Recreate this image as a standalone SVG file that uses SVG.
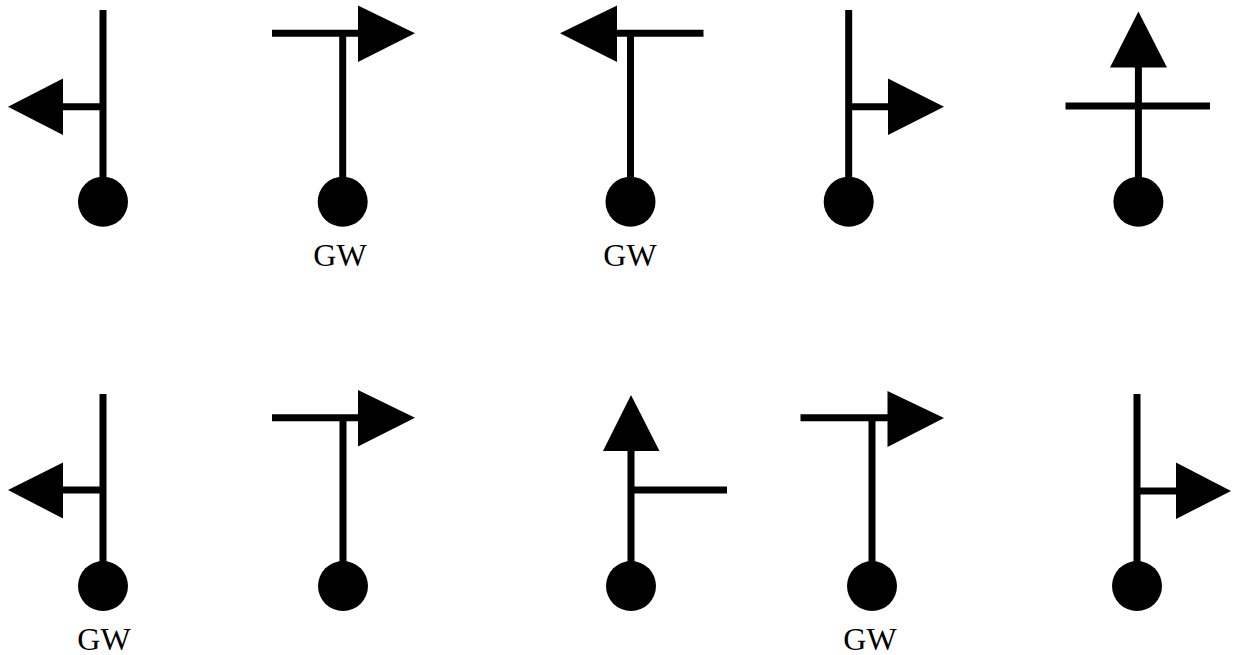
<svg xmlns="http://www.w3.org/2000/svg" width="1233" height="655" viewBox="0 0 1233 655">
<style>
.s{stroke:#000;stroke-width:7;fill:none;stroke-linecap:butt}
.f{fill:#000}
.t{font-family:"Liberation Serif",serif;font-size:32px;fill:#000;text-anchor:middle}
</style>
<rect width="1233" height="655" fill="#fff"/>
<g id="connectors">
<path class="s" d="M103,10V180M103,106.7H62"/>
<path class="s" d="M272,33.3H360M342.7,33.3V180"/>
<path class="s" d="M703.5,33.3H615M630.5,33.3V180"/>
<path class="s" d="M848.7,10V180M848.7,106.7H890"/>
<path class="s" d="M1065.5,106H1210M1138.4,66V180"/>
<path class="s" d="M103,394V565M103,490H62"/>
<path class="s" d="M272,417.7H360M343,417.7V565"/>
<path class="s" d="M631,449V565M631,490H727"/>
<path class="s" d="M800.5,417.7H890M872,417.7V565"/>
<path class="s" d="M1137,394V565M1137,491H1178"/>
</g>
<g id="n1"><polygon class="f" points="8,106.7 63,78.5 63,135"/><circle class="f" cx="103" cy="201.7" r="25"/></g>
<g id="n2"><polygon class="f" points="415,33.3 358,5.5 358,62"/><circle class="f" cx="342.7" cy="201.7" r="25"/><text class="t" x="340" y="266">GW</text></g>
<g id="n3"><polygon class="f" points="560,33.3 617,5.5 617,62"/><circle class="f" cx="630.5" cy="201.7" r="25"/><text class="t" x="630" y="266">GW</text></g>
<g id="n4"><polygon class="f" points="944,106.7 888,78.5 888,135"/><circle class="f" cx="848.7" cy="201.7" r="25"/></g>
<g id="n5"><polygon class="f" points="1138.4,11.5 1110,67.5 1167,67.5"/><circle class="f" cx="1138.4" cy="201.7" r="25"/></g>
<g id="n6"><polygon class="f" points="8,490 63,462.5 63,518.5"/><circle class="f" cx="103" cy="586" r="25"/><text class="t" x="104" y="650">GW</text></g>
<g id="n7"><polygon class="f" points="415,417.7 358,390 358,446.5"/><circle class="f" cx="343" cy="586" r="25"/></g>
<g id="n8"><polygon class="f" points="631,395 603,451 659.5,451"/><circle class="f" cx="631" cy="586" r="25"/></g>
<g id="n9"><polygon class="f" points="944,418 887.5,391 887.5,447"/><circle class="f" cx="872" cy="586" r="25"/><text class="t" x="870" y="650">GW</text></g>
<g id="n10"><polygon class="f" points="1231,491 1176,462.5 1176,519"/><circle class="f" cx="1137" cy="586" r="25"/></g>
</svg>
